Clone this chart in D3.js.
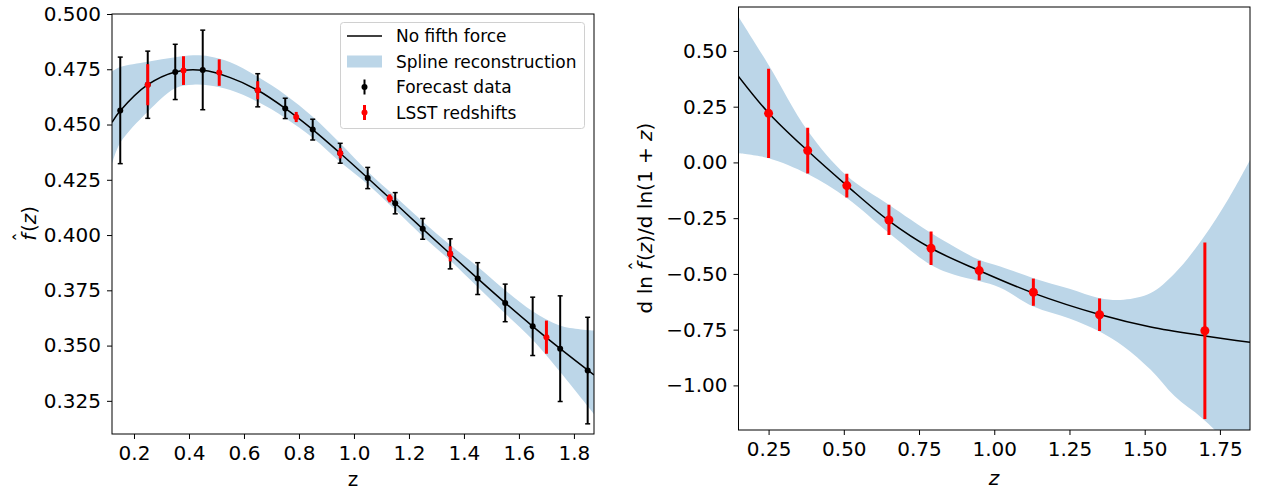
<!DOCTYPE html>
<html>
<head>
<meta charset="utf-8">
<script src="https://cdn.jsdelivr.net/npm/d3@7"></script>
<style>
    body { margin: 0; background: #fff; }
    text { font-family: "DejaVu Sans", sans-serif; }
</style>
</head>
<body>
<div id="chart"></div>
<script>
// ---- left panel: f(z) ----
var leftTheoryZ = [0.12, 0.15, 0.25, 0.35, 0.45, 0.55, 0.65, 0.75, 0.85, 0.95, 1.05, 1.15, 1.25, 1.35, 1.45, 1.55, 1.65, 1.75, 1.873];
var leftTheory = [0.451, 0.4562, 0.4680, 0.4738, 0.4745, 0.4712, 0.4655, 0.4573, 0.4477, 0.4370, 0.4258, 0.4144, 0.4028, 0.3915, 0.3803, 0.3693, 0.3587, 0.3486, 0.3367];

var leftBandZ = [0.12, 0.15, 0.25, 0.35, 0.415, 0.475, 0.55, 0.65, 0.75, 0.85, 0.95, 1.05, 1.15, 1.25, 1.35, 1.45, 1.55, 1.65, 1.75, 1.873];
var leftBandHi = [0.4740, 0.4760, 0.4784, 0.4804, 0.4813, 0.4808, 0.4782, 0.4716, 0.4635, 0.4535, 0.4415, 0.4287, 0.4174, 0.4061, 0.3955, 0.3857, 0.3750, 0.3655, 0.3590, 0.3568];
var leftBandLo = [0.4320, 0.4417, 0.4558, 0.4664, 0.4680, 0.4676, 0.4656, 0.4603, 0.4530, 0.4440, 0.4330, 0.4230, 0.4114, 0.3995, 0.3885, 0.3765, 0.3645, 0.3526, 0.3380, 0.3190];

var forecastZ = [0.15, 0.25, 0.35, 0.45, 0.65, 0.75, 0.85, 0.95, 1.05, 1.15, 1.25, 1.35, 1.45, 1.55, 1.65, 1.75, 1.85];
var forecastF = [0.4564, 0.4680, 0.4738, 0.4747, 0.4655, 0.4573, 0.4477, 0.4370, 0.4258, 0.4144, 0.4028, 0.3915, 0.3803, 0.3693, 0.3587, 0.3486, 0.3387];
var forecastErr = [0.0241, 0.0152, 0.0125, 0.0180, 0.0075, 0.0046, 0.0047, 0.0045, 0.0048, 0.0048, 0.0047, 0.0068, 0.0072, 0.0085, 0.0132, 0.0239, 0.0241];

var lsstZ = [0.25, 0.38, 0.51, 0.65, 0.79, 0.95, 1.13, 1.35, 1.70];
var lsstF = [0.4680, 0.4744, 0.4735, 0.4655, 0.4534, 0.4370, 0.4166, 0.3915, 0.3538];
var lsstFErr = [0.0093, 0.0065, 0.0060, 0.0041, 0.0023, 0.0023, 0.0018, 0.0034, 0.0075];

var leftXTicks = [0.2, 0.4, 0.6, 0.8, 1.0, 1.2, 1.4, 1.6, 1.8];
var leftYTicks = [0.325, 0.350, 0.375, 0.400, 0.425, 0.450, 0.475, 0.500];

// ---- right panel: dln f / dln(1+z) ----
var rightTheoryZ = [0.15, 0.25, 0.38, 0.51, 0.65, 0.79, 0.95, 1.13, 1.35, 1.52, 1.70, 1.85];
var rightTheory = [0.386, 0.222, 0.052, -0.104, -0.262, -0.385, -0.485, -0.586, -0.682, -0.738, -0.778, -0.807];

var rightBandZ = [0.15, 0.25, 0.38, 0.51, 0.65, 0.79, 0.87, 0.95, 1.02, 1.13, 1.25, 1.35, 1.43, 1.52, 1.60, 1.69, 1.78, 1.85];
var rightBandHi = [0.653, 0.437, 0.142, -0.060, -0.190, -0.317, -0.380, -0.437, -0.467, -0.519, -0.567, -0.609, -0.616, -0.586, -0.497, -0.347, -0.160, 0.011];
var rightBandLo = [0.041, 0.019, -0.052, -0.160, -0.317, -0.460, -0.505, -0.532, -0.562, -0.646, -0.700, -0.758, -0.825, -0.930, -1.049, -1.146, -1.260, -1.340];

var slopeZ = [0.25, 0.38, 0.51, 0.65, 0.79, 0.95, 1.13, 1.35, 1.70];
var slopeVal = [0.220, 0.053, -0.104, -0.258, -0.385, -0.485, -0.582, -0.683, -0.755];
var slopeErr = [0.200, 0.103, 0.053, 0.068, 0.075, 0.044, 0.061, 0.073, 0.396];

var rightXTicks = [0.25, 0.50, 0.75, 1.00, 1.25, 1.50, 1.75];
var rightYTicks = [-1.00, -0.75, -0.50, -0.25, 0.00, 0.25, 0.50];

var legendLabels = ["No fifth force", "Spline reconstruction", "Forecast data", "LSST redshifts"];

var bandColor = "rgb(188,214,232)";
var fontSize = 20;

var width = 1261, height = 490;

var svg = d3.select("#chart").append("svg")
    .attr("width", width)
    .attr("height", height);

function zip(xs, ys) {
    return xs.map(function(x, i) { return [x, ys[i]]; });
}

function makePanel(opts) {
    var g = svg.append("g");

    var x = d3.scaleLinear().domain(opts.xDomain).range([opts.left, opts.right]);
    var y = d3.scaleLinear().domain(opts.yDomain).range([opts.bottom, opts.top]);

    var clipId = "clip-" + opts.name;
    svg.append("clipPath").attr("id", clipId)
        .append("rect")
        .attr("x", opts.left).attr("y", opts.top)
        .attr("width", opts.right - opts.left)
        .attr("height", opts.bottom - opts.top);

    var plot = g.append("g").attr("clip-path", "url(#" + clipId + ")");

    // band
    var area = d3.area()
        .curve(d3.curveCatmullRom)
        .x(function(d) { return x(d[0]); })
        .y0(function(d) { return y(d[1]); })
        .y1(function(d) { return y(d[2]); });

    var bandData = opts.bandZ.map(function(z, i) { return [z, opts.bandLo[i], opts.bandHi[i]]; });
    plot.append("path")
        .datum(bandData)
        .attr("fill", bandColor)
        .attr("d", area);

    // theory line
    var line = d3.line()
        .curve(d3.curveCatmullRom)
        .x(function(d) { return x(d[0]); })
        .y(function(d) { return y(d[1]); });

    plot.append("path")
        .datum(zip(opts.theoryZ, opts.theory))
        .attr("fill", "none")
        .attr("stroke", "#000")
        .attr("stroke-width", 1.5)
        .attr("d", line);

    // axes
    var xAxis = d3.axisBottom(x)
        .tickValues(opts.xTicks)
        .tickFormat(d3.format(opts.xFormat))
        .tickSize(5)
        .tickPadding(7);
    var yAxis = d3.axisLeft(y)
        .tickValues(opts.yTicks)
        .tickFormat(d3.format(opts.yFormat))
        .tickSize(5)
        .tickPadding(6);

    var gx = g.append("g")
        .attr("transform", "translate(0," + opts.bottom + ")")
        .call(xAxis);
    var gy = g.append("g")
        .attr("transform", "translate(" + opts.left + ",0)")
        .call(yAxis);

    [gx, gy].forEach(function(a) {
        a.select(".domain").remove();
        a.selectAll(".tick line").attr("stroke", "#000").attr("stroke-width", 1);
        a.selectAll(".tick text")
            .attr("fill", "#000")
            .style("font-size", fontSize + "px")
            .style("font-family", "DejaVu Sans");
    });

    return { g: g, plot: plot, x: x, y: y, opts: opts };
}

function frame(p) {
    var o = p.opts;
    p.g.append("rect")
        .attr("x", o.left).attr("y", o.top)
        .attr("width", o.right - o.left)
        .attr("height", o.bottom - o.top)
        .attr("fill", "none")
        .attr("stroke", "#000")
        .attr("stroke-width", 1);
}

// ---------- left ----------
var left = makePanel({
    name: "left",
    left: 112, right: 594, top: 14, bottom: 434,
    xDomain: [0.12, 1.873], yDomain: [0.310, 0.500],
    bandZ: leftBandZ, bandLo: leftBandLo, bandHi: leftBandHi,
    theoryZ: leftTheoryZ, theory: leftTheory,
    xTicks: leftXTicks, yTicks: leftYTicks,
    xFormat: ".1f", yFormat: ".3f"
});

// forecast data (black, capped)
var fc = left.plot.selectAll(".forecast")
    .data(forecastZ.map(function(z, i) { return { z: z, v: forecastF[i], e: forecastErr[i] }; }))
    .enter().append("g")
    .attr("class", "forecast");

fc.append("line")
    .attr("x1", function(d) { return left.x(d.z); })
    .attr("x2", function(d) { return left.x(d.z); })
    .attr("y1", function(d) { return left.y(d.v + d.e); })
    .attr("y2", function(d) { return left.y(d.v - d.e); })
    .attr("stroke", "#000").attr("stroke-width", 2);
[1, -1].forEach(function(s) {
    fc.append("line")
        .attr("x1", function(d) { return left.x(d.z) - 2.5; })
        .attr("x2", function(d) { return left.x(d.z) + 2.5; })
        .attr("y1", function(d) { return left.y(d.v + s * d.e); })
        .attr("y2", function(d) { return left.y(d.v + s * d.e); })
        .attr("stroke", "#000").attr("stroke-width", 1.5);
});
fc.append("circle")
    .attr("cx", function(d) { return left.x(d.z); })
    .attr("cy", function(d) { return left.y(d.v); })
    .attr("r", 3)
    .attr("fill", "#000");

// LSST redshifts (red)
var ls = left.plot.selectAll(".lsst")
    .data(lsstZ.map(function(z, i) { return { z: z, v: lsstF[i], e: lsstFErr[i] }; }))
    .enter().append("g")
    .attr("class", "lsst");
ls.append("line")
    .attr("x1", function(d) { return left.x(d.z); })
    .attr("x2", function(d) { return left.x(d.z); })
    .attr("y1", function(d) { return left.y(d.v + d.e); })
    .attr("y2", function(d) { return left.y(d.v - d.e); })
    .attr("stroke", "red").attr("stroke-width", 3);
ls.append("circle")
    .attr("cx", function(d) { return left.x(d.z); })
    .attr("cy", function(d) { return left.y(d.v); })
    .attr("r", 3)
    .attr("fill", "red");

frame(left);

// legend
var leg = left.g.append("g");
leg.append("rect")
    .attr("x", 340.5).attr("y", 22.5)
    .attr("width", 244).attr("height", 106)
    .attr("rx", 3)
    .attr("fill", "#fff").attr("fill-opacity", 0.8)
    .attr("stroke", "#d0d0d0").attr("stroke-width", 1);

var rowY = [36, 61.5, 87, 112.5];
leg.append("line")
    .attr("x1", 347).attr("x2", 382).attr("y1", rowY[0]).attr("y2", rowY[0])
    .attr("stroke", "#000").attr("stroke-width", 1.5);
leg.append("rect")
    .attr("x", 347).attr("y", rowY[1] - 6).attr("width", 35).attr("height", 12)
    .attr("fill", bandColor);
leg.append("line")
    .attr("x1", 364.5).attr("x2", 364.5).attr("y1", rowY[2] - 7.5).attr("y2", rowY[2] + 7.5)
    .attr("stroke", "#000").attr("stroke-width", 2);
leg.append("circle").attr("cx", 364.5).attr("cy", rowY[2]).attr("r", 3).attr("fill", "#000");
leg.append("line")
    .attr("x1", 364.5).attr("x2", 364.5).attr("y1", rowY[3] - 7.5).attr("y2", rowY[3] + 7.5)
    .attr("stroke", "red").attr("stroke-width", 3);
leg.append("circle").attr("cx", 364.5).attr("cy", rowY[3]).attr("r", 3).attr("fill", "red");

leg.selectAll(".legtext")
    .data(legendLabels)
    .enter().append("text")
    .attr("x", 396)
    .attr("y", function(d, i) { return rowY[i]; })
    .attr("dy", "0.36em")
    .style("font-size", "17px")
    .text(function(d) { return d; });

// left axis labels
svg.append("text")
    .attr("x", 353).attr("y", 486)
    .attr("text-anchor", "middle")
    .style("font-size", "20px")
    .text("z");

var ylab = svg.append("text")
    .attr("transform", "translate(36,224) rotate(-90)")
    .attr("text-anchor", "middle")
    .style("font-size", "20px");
ylab.append("tspan").style("font-style", "italic").text("f");
ylab.append("tspan").attr("dx", "-0.42em").attr("dy", "-0.38em").text("\u02C6");
ylab.append("tspan").attr("dy", "0.38em").text("(");
ylab.append("tspan").style("font-style", "italic").text("z");
ylab.append("tspan").text(")");

// ---------- right ----------
var right = makePanel({
    name: "right",
    left: 738.5, right: 1250, top: 7, bottom: 430,
    xDomain: [0.15, 1.85], yDomain: [-1.2, 0.697],
    bandZ: rightBandZ, bandLo: rightBandLo, bandHi: rightBandHi,
    theoryZ: rightTheoryZ, theory: rightTheory,
    xTicks: rightXTicks, yTicks: rightYTicks,
    xFormat: ".2f", yFormat: ".2f"
});

var sl = right.plot.selectAll(".slope")
    .data(slopeZ.map(function(z, i) { return { z: z, v: slopeVal[i], e: slopeErr[i] }; }))
    .enter().append("g")
    .attr("class", "slope");
sl.append("line")
    .attr("x1", function(d) { return right.x(d.z); })
    .attr("x2", function(d) { return right.x(d.z); })
    .attr("y1", function(d) { return right.y(d.v + d.e); })
    .attr("y2", function(d) { return right.y(d.v - d.e); })
    .attr("stroke", "red").attr("stroke-width", 3);
sl.append("circle")
    .attr("cx", function(d) { return right.x(d.z); })
    .attr("cy", function(d) { return right.y(d.v); })
    .attr("r", 4.5)
    .attr("fill", "red");

frame(right);

svg.append("text")
    .attr("x", 994).attr("y", 485)
    .attr("text-anchor", "middle")
    .style("font-size", "20px")
    .style("font-style", "italic")
    .text("z");

var rylab = svg.append("text")
    .attr("transform", "translate(652,218) rotate(-90)")
    .attr("text-anchor", "middle")
    .style("font-size", "20px");
rylab.append("tspan").text("d ln ");
rylab.append("tspan").style("font-style", "italic").text("f");
rylab.append("tspan").attr("dx", "-0.42em").attr("dy", "-0.38em").text("\u02C6");
rylab.append("tspan").attr("dy", "0.38em").text("(");
rylab.append("tspan").style("font-style", "italic").text("z");
rylab.append("tspan").text(")/d ln(1 + ");
rylab.append("tspan").style("font-style", "italic").text("z");
rylab.append("tspan").text(")");
</script>
</body>
</html>
